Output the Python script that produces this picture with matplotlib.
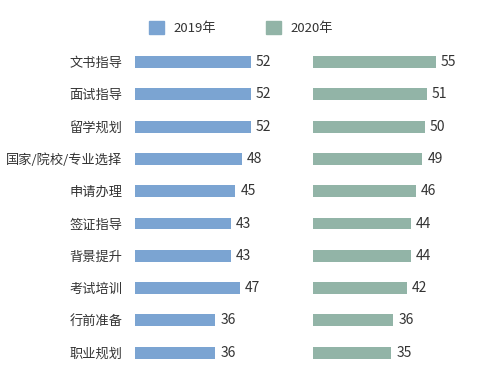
import matplotlib
matplotlib.use("Agg")
import matplotlib.pyplot as plt
from matplotlib.patches import Patch

plt.rcParams['font.family'] = ['Noto Sans CJK SC', 'DejaVu Sans']

categories = ["文书指导", "面试指导", "留学规划", "国家/院校/专业选择", "申请办理",
              "签证指导", "背景提升", "考试培训", "行前准备", "职业规划"]
values_2019 = [52, 52, 52, 48, 45, 43, 43, 47, 36, 36]
values_2020 = [55, 51, 50, 49, 46, 44, 44, 42, 36, 35]
series_names = ["2019年", "2020年"]
colors = ["#7BA4D2", "#92B4A7"]

W, H = 492, 370
fig = plt.figure(figsize=(W / 100, H / 100), dpi=100)

px_per_unit = 2.23
ax_w = 150
xmax = ax_w / px_per_unit
row = 32.3
top_center = 62
n = len(categories)
ax_top = top_center - row / 2
ax_h = row * n

def make_ax(x0):
    return fig.add_axes([x0 / W, 1 - (ax_top + ax_h) / H, ax_w / W, ax_h / H])

ax1 = make_ax(135)
ax2 = make_ax(313)
ypos = list(range(n))
for ax, vals, c in [(ax1, values_2019, colors[0]), (ax2, values_2020, colors[1])]:
    ax.barh(ypos, vals, height=0.37, color=c)
    ax.set_xlim(0, xmax)
    ax.set_ylim(n - 0.5, -0.5)
    for s in ax.spines.values():
        s.set_visible(False)
    ax.set_xticks([])
    ax.tick_params(axis='y', length=0, labelsize=9.5, colors="#333333", pad=9)
    for y, v in zip(ypos, vals):
        ax.text(v + 2.3, y, str(v), va='center', ha='left', fontsize=10, color="#333333")

ax1.set_yticks(ypos)
ax1.set_yticklabels(categories)
ax2.set_yticks([])

handles = [Patch(color=colors[0], label=series_names[0]),
           Patch(color=colors[1], label=series_names[1])]
fig.legend(handles=handles, loc='center', bbox_to_anchor=(241 / W, 1 - 28 / H),
           ncol=2, frameon=False, fontsize=9.5, handlelength=1.15, handleheight=1.15,
           columnspacing=3.8, handletextpad=0.7, labelcolor="#333333",
           borderpad=0, borderaxespad=0)

fig.savefig("out.png", dpi=100, facecolor="white")
